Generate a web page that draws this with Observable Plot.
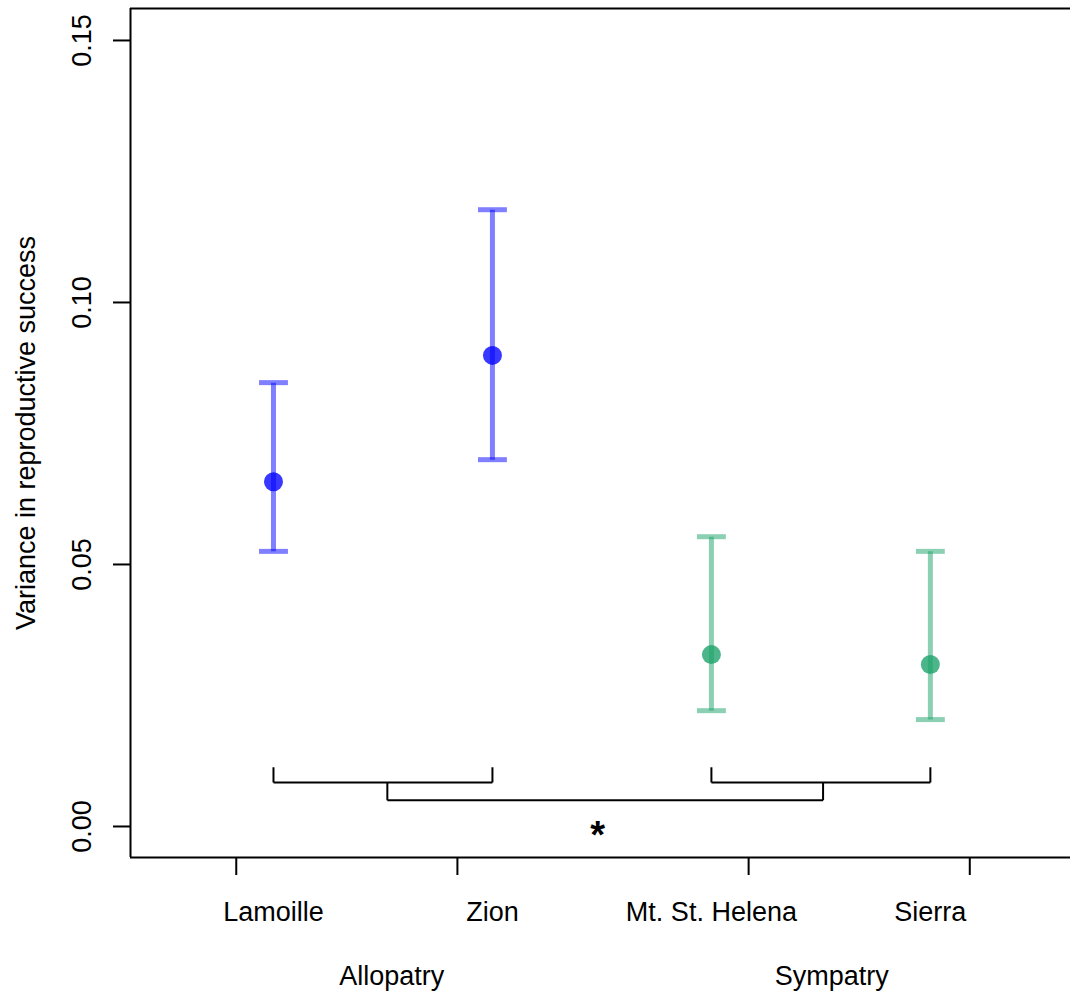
<!DOCTYPE html>
<html>
<head>
<meta charset="utf-8">
<script src="https://cdn.jsdelivr.net/npm/d3@7"></script>
<script src="https://cdn.jsdelivr.net/npm/@observablehq/plot@0.6"></script>
<style>
  html, body { margin: 0; padding: 0; background: #fff; }
  #chart svg { display: block; }
</style>
</head>
<body>
<div id="chart"></div>
<script>
// ---- data ----
const sites = ["Lamoille", "Zion", "Mt. St. Helena", "Sierra"];
const groups = ["Allopatry", "Allopatry", "Sympatry", "Sympatry"];
const variance = [0.0658, 0.0899, 0.0328, 0.0309];
const lower = [0.0525, 0.0700, 0.0221, 0.0204];
const upper = [0.0847, 0.1177, 0.0553, 0.0525];
const yTicks = [0, 0.05, 0.10, 0.15];
const xTickPositions = [0.83, 1.84, 3.17, 4.18];
const groupLabels = ["Allopatry", "Sympatry"];
const groupLabelPositions = [1.54, 3.55];
// significance brackets (data units)
const pairBrackets = [
  {from: 1, to: 2, top: 0.0113, bar: 0.0084},
  {from: 3, to: 4, top: 0.0113, bar: 0.0084}
];
const groupBracket = {from: 1.52, to: 3.51, top: 0.0084, bar: 0.0050, label: "*", labelX: 2.48, labelY: -0.0018};

const colors = {Allopatry: "#0000ff", Sympatry: "#19a169"};

const rows = sites.map((s, i) => ({
  site: s, pos: i + 1, group: groups[i], v: variance[i], lo: lower[i], hi: upper[i]
}));

const segments = [];
for (const b of [...pairBrackets, groupBracket]) {
  segments.push({x1: b.from, y1: b.top, x2: b.from, y2: b.bar});
  segments.push({x1: b.from, y1: b.bar, x2: b.to, y2: b.bar});
  segments.push({x1: b.to, y1: b.bar, x2: b.to, y2: b.top});
}
const capHalf = 0.066;

const xDomain = [0.347, 4.64];
const yDomain = [-0.00592, 0.1561];
const font = "Liberation Sans, Arial, Helvetica, sans-serif";

const chart = Plot.plot({
  width: 1070,
  height: 994,
  marginLeft: 130,
  marginRight: 0,
  marginTop: 8,
  marginBottom: 137,
  style: {fontFamily: font, fontSize: "27px", color: "#000", background: "#fff"},
  x: {domain: xDomain, axis: null},
  y: {domain: yDomain, axis: null},
  marks: [
    // frame (left, top, bottom)
    Plot.ruleX([xDomain[0]], {stroke: "#000", strokeWidth: 2}),
    Plot.ruleY([yDomain[0], yDomain[1]], {stroke: "#000", strokeWidth: 2}),
    // y ticks
    Plot.axisY({ticks: yTicks, tickSize: 17, tickFormat: () => "", stroke: "#000", strokeWidth: 2}),
    Plot.text(yTicks, {
      y: d => d, text: d => d3.format(".2f")(d), frameAnchor: "left",
      rotate: -90, textAnchor: "middle", lineAnchor: "bottom", dx: -40,
      fontSize: 27, fill: "#000"
    }),
    Plot.text(["Variance in reproductive success"], {
      frameAnchor: "left", rotate: -90, textAnchor: "middle", lineAnchor: "bottom",
      dx: -96, fontSize: 27, fill: "#000"
    }),
    // x ticks
    Plot.axisX({ticks: xTickPositions, tickSize: 18, tickFormat: () => "", stroke: "#000", strokeWidth: 2}),
    Plot.text(rows, {
      x: "pos", text: "site", frameAnchor: "bottom", lineAnchor: "bottom", dy: 63,
      fontSize: 27, fill: "#000"
    }),
    Plot.text(groupLabels, {
      x: (d, i) => groupLabelPositions[i], text: d => d, frameAnchor: "bottom",
      lineAnchor: "bottom", dy: 127, fontSize: 27, fill: "#000"
    }),
    // error bars
    Plot.link(rows, {
      x1: "pos", x2: "pos", y1: "lo", y2: "hi",
      stroke: d => colors[d.group], strokeOpacity: 0.5, strokeWidth: 5
    }),
    Plot.link(rows, {
      x1: d => d.pos - capHalf, x2: d => d.pos + capHalf, y1: "hi", y2: "hi",
      stroke: d => colors[d.group], strokeOpacity: 0.5, strokeWidth: 5
    }),
    Plot.link(rows, {
      x1: d => d.pos - capHalf, x2: d => d.pos + capHalf, y1: "lo", y2: "lo",
      stroke: d => colors[d.group], strokeOpacity: 0.5, strokeWidth: 5
    }),
    // points
    Plot.dot(rows, {
      x: "pos", y: "v", r: 9.5, fill: d => colors[d.group], fillOpacity: 0.78, stroke: "none"
    }),
    // brackets
    Plot.link(segments, {x1: "x1", y1: "y1", x2: "x2", y2: "y2", stroke: "#000", strokeWidth: 2}),
    Plot.text([groupBracket], {
      x: "labelX", y: "labelY", text: "label", fontSize: 38, fontWeight: "bold", fill: "#000",
      lineAnchor: "middle"
    })
  ]
});
document.getElementById("chart").appendChild(chart);
</script>
</body>
</html>
